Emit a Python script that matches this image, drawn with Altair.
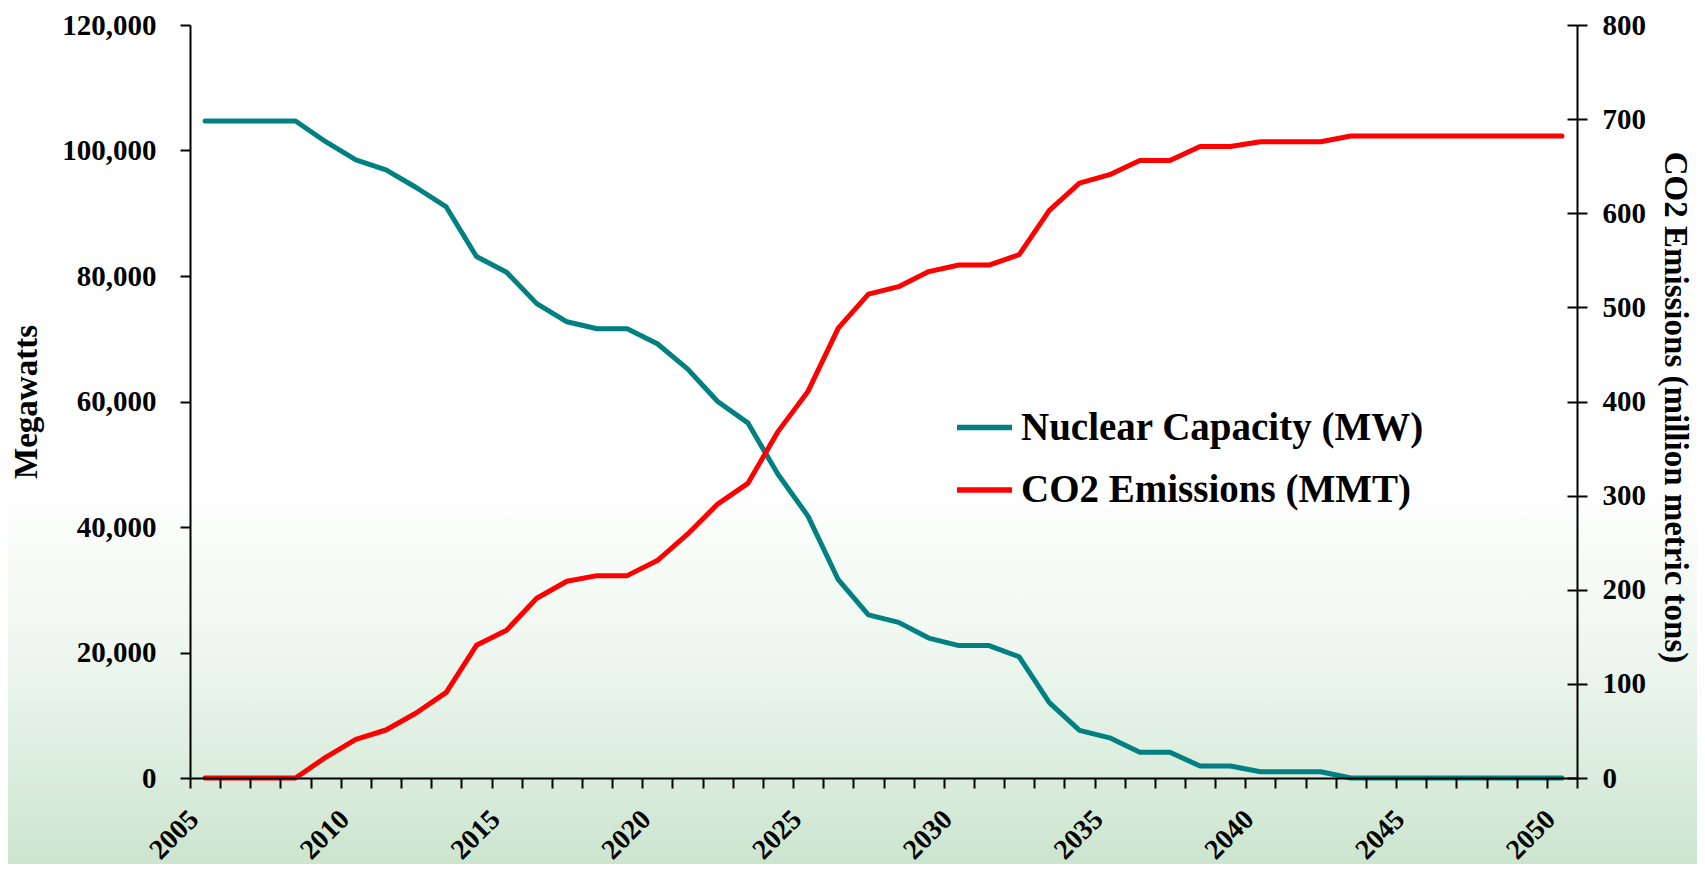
import altair as alt
import pandas as pd

# ---------------- data ----------------
years = list(range(2005, 2051))
nuclear_mw = [104700, 104700, 104700, 104700, 101400, 98500, 96900, 94100, 91000, 83100,
              80600, 75600, 72700, 71600, 71600, 69200, 65200, 60000, 56600, 48400,
              41700, 31600, 26000, 24800, 22300, 21100, 21100, 19300, 12000, 7600,
              6400, 4100, 4100, 1900, 1900, 1000, 1000, 1000, 0, 0,
              0, 0, 0, 0, 0, 0]
co2_mmt = [0, 0, 0, 0, 22, 41, 51, 69, 91, 141,
           157, 191, 209, 215, 215, 231, 259, 291, 313, 368,
           411, 478, 514, 522, 538, 545, 545, 556, 603, 632,
           641, 656, 656, 671, 671, 676, 676, 676, 682, 682,
           682, 682, 682, 682, 682, 682]
series_names = ["Nuclear Capacity (MW)", "CO2 Emissions (MMT)"]
series_colors = ["#008080", "#ff0000"]
left_ticks = [0, 20000, 40000, 60000, 80000, 100000, 120000]
right_ticks = [0, 100, 200, 300, 400, 500, 600, 700, 800]

df = pd.DataFrame({"year": years, "nuclear": nuclear_mw, "co2": co2_mmt})
x_boundaries = [y - 0.5 for y in years] + [years[-1] + 0.5]

# ---------------- layout ----------------
FONT = "Liberation Serif"
W, H = 1387, 753
PAD = {"left": 182, "top": 17, "right": 120, "bottom": 86}

axis_style = dict(
    labelFont=FONT, labelFontSize=29, labelFontWeight="bold", labelColor="black",
    titleFont=FONT, titleFontSize=30, titleFontWeight="bold", titleColor="black",
    domainColor="black", domainWidth=2, tickColor="black", tickWidth=2, grid=False,
    tickSize=10, zindex=2,
)

x_enc = alt.X(
    "year:Q",
    scale=alt.Scale(domain=[x_boundaries[0], x_boundaries[-1]], nice=False, zero=False),
    axis=alt.Axis(
        values=x_boundaries,
        labelExpr="(datum.value + 0.5) % 5 == 0 ? format(datum.value + 0.5, 'd') : ''",
        labelAngle=-45, labelAlign="right", labelBaseline="top",
        labelPadding=17, labelOffset=-6, labelFlush=False, labelOverlap=False,
        title=None, **{**axis_style, "labelFontSize": 28},
    ),
)

color_scale = alt.Scale(domain=series_names, range=series_colors)
legend = alt.Legend(
    orient="none", legendX=764, legendY=372, title=None,
    symbolType="stroke", symbolStrokeWidth=5.5, symbolSize=3025,
    labelFont=FONT, labelFontSize=39, labelFontWeight="bold", labelColor="black",
    labelOffset=6, rowPadding=11.5, padding=0, labelLimit=600,
)

gradient = alt.LinearGradient(
    gradient="linear",
    stops=[
        alt.GradientStop(color="#ffffff", offset=0),
        alt.GradientStop(color="#ffffff", offset=0.56),
        alt.GradientStop(color="#eef7ef", offset=0.75),
        alt.GradientStop(color="#cce5cf", offset=1),
    ],
    x1=0, x2=0, y1=0, y2=1,
)

bg = alt.Chart(pd.DataFrame({"k": [0]})).mark_rect(fill=gradient).encode(
    x=alt.value(-PAD["left"]), x2=alt.value(W + PAD["right"]),
    y=alt.value(-PAD["top"]), y2=alt.value(H + PAD["bottom"]),
)

line_style = dict(strokeWidth=5, strokeCap="round", strokeJoin="round")

teal = alt.Chart(df).transform_calculate(series=f"'{series_names[0]}'").mark_line(**line_style).encode(
    x=x_enc,
    y=alt.Y("nuclear:Q", scale=alt.Scale(domain=[0, 120000], nice=False),
            axis=alt.Axis(orient="left", values=left_ticks,
                          labelExpr="format(datum.value, ',')", title="Megawatts",
                          labelPadding=24, titlePadding=18,
                          **{**axis_style, "titleFontSize": 33})),
    color=alt.Color("series:N", scale=color_scale, legend=legend),
)

red = alt.Chart(df).transform_calculate(series=f"'{series_names[1]}'").mark_line(**line_style).encode(
    x=x_enc,
    y=alt.Y("co2:Q", scale=alt.Scale(domain=[0, 800], nice=False),
            axis=alt.Axis(orient="right", values=right_ticks,
                          labelExpr="format(datum.value, 'd')",
                          title="CO2 Emissions (million metric tons)",
                          labelPadding=15, titlePadding=12, titleY=382,
                          **{**axis_style, "titleFontSize": 33})),
    color=alt.Color("series:N", scale=color_scale, legend=legend),
)

# inner half of the right axis' crossing tick marks
ghost = alt.Chart(df).mark_line(opacity=0).encode(
    x=x_enc,
    y=alt.Y("co2:Q", scale=alt.Scale(domain=[0, 800], nice=False),
            axis=alt.Axis(orient="right", values=right_ticks, offset=-10,
                          labels=False, domain=False, title=None,
                          **{k: v for k, v in axis_style.items() if not k.startswith(("label", "title", "domain"))})),
)

chart = (
    alt.layer(bg, teal, red, ghost)
    .resolve_scale(y="independent")
    .properties(width=W, height=H, padding=PAD, autosize=alt.AutoSizeParams(type="none"))
    .configure_view(strokeWidth=0)
)

chart.save("out.html", embed_options={"renderer": "svg", "actions": False})
